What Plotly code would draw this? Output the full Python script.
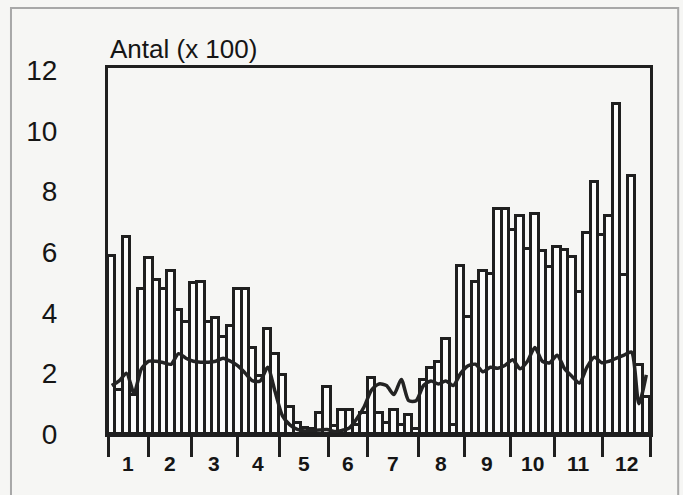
import plotly.graph_objects as go

# Five-day periods (pentads) through the year
pentad = list(range(1, 74))

# Count per pentad, in hundreds
counts = [
    5.86, 1.45, 6.50, 1.30, 4.77, 5.81, 5.07, 4.79, 5.39, 4.10,
    3.69, 4.98, 5.01, 3.69, 3.84, 3.20, 3.55, 4.79, 4.79, 2.82,
    1.90, 3.45, 2.63, 1.94, 0.89, 0.37, 0.20, 0.15, 0.70, 1.56,
    0.25, 0.80, 0.80, 0.30, 0.70, 1.84, 0.69, 0.36, 0.79, 0.30,
    0.62, 0.15, 1.78, 2.17, 2.38, 3.12, 0.30, 5.53, 3.86, 5.01,
    5.39, 5.29, 7.42, 7.42, 6.73, 7.20, 6.11, 7.26, 6.05, 5.50,
    6.16, 6.07, 5.83, 4.68, 6.62, 8.30, 6.55, 7.20, 10.88, 5.23,
    8.52, 2.27, 1.22,
]

# Smoothed level, in hundreds
smoothed = [
    1.60, 1.75, 2.00, 1.35, 2.15, 2.40, 2.40, 2.35, 2.30, 2.65,
    2.50, 2.40, 2.37, 2.37, 2.40, 2.50, 2.40, 2.25, 2.00, 1.75,
    1.75, 2.20, 1.40, 0.60, 0.30, 0.15, 0.10, 0.12, 0.13, 0.15,
    0.08, 0.12, 0.20, 0.50, 0.90, 1.45, 1.65, 1.60, 1.30, 1.80,
    1.10, 1.10, 1.60, 1.75, 1.65, 1.75, 1.60, 2.00, 2.25, 2.30,
    2.05, 2.20, 2.17, 2.27, 2.45, 2.15, 2.40, 2.85, 2.40, 2.35,
    2.60, 2.15, 1.90, 1.68, 2.20, 2.53, 2.35, 2.40, 2.50, 2.60,
    2.70, 1.00, 1.95,
]

month_labels = ["1", "2", "3", "4", "5", "6", "7", "8", "9", "10", "11", "12"]
# Month boundaries on the pentad axis
month_edges = [0.5, 5.9, 11.7, 17.9, 23.55, 30.15, 35.4, 42.3, 48.5, 54.7, 60.6, 67.1, 73.5]
y_ticks = [0, 2, 4, 6, 8, 10, 12]

INK = "#1f1f1f"
PAPER = "#f6f6f4"
FONT = "Liberation Sans, Arial, sans-serif"

fig = go.Figure()
fig.add_bar(
    x=pentad, y=counts, width=1,
    marker=dict(color="#fcfcfb", line=dict(color=INK, width=3)),
)
fig.add_scatter(
    x=pentad, y=smoothed, mode="lines",
    line=dict(color="#232323", width=3.5, shape="spline", smoothing=0.7),
)

month_mid = [(a + b) / 2 for a, b in zip(month_edges[:-1], month_edges[1:])]
annotations = [
    dict(x=m, y=-0.08, xref="x", yref="paper", text=f"<b>{t}</b>", showarrow=False,
         xanchor="center", yanchor="middle", font=dict(size=21, color="#151515"))
    for m, t in zip(month_mid, month_labels)
]
annotations.append(dict(
    x=0, y=1.052, xref="paper", yref="paper", text="Antal (x 100)",
    showarrow=False, xanchor="left", yanchor="middle",
    font=dict(size=26, color="#151515"),
))

fig.update_layout(
    width=683, height=495,
    margin=dict(l=108, r=33, t=68, b=61),
    paper_bgcolor=PAPER, plot_bgcolor=PAPER,
    showlegend=False, bargap=0,
    font=dict(family=FONT, color="#151515"),
    annotations=annotations,
    shapes=[dict(
        type="rect", xref="paper", yref="paper",
        x0=-0.179, x1=1.052, y0=-0.2, y1=1.164,
        line=dict(color="#a8a8a8", width=2), layer="below",
    )],
)
fig.update_xaxes(
    range=[0.5, 73.5], showgrid=False, zeroline=False,
    showline=True, mirror=True, linecolor=INK, linewidth=3,
    tickmode="array", tickvals=month_edges, showticklabels=False,
    ticks="outside", ticklen=20, tickwidth=3, tickcolor=INK,
)
fig.update_yaxes(
    range=[0, 12.07], showgrid=False, zeroline=False,
    showline=True, mirror=True, linecolor=INK, linewidth=3,
    tickmode="array", tickvals=y_ticks, ticks="",
    tickfont=dict(size=28, color="#151515"), ticklabelstandoff=42,
)

fig.write_html("out.html")
